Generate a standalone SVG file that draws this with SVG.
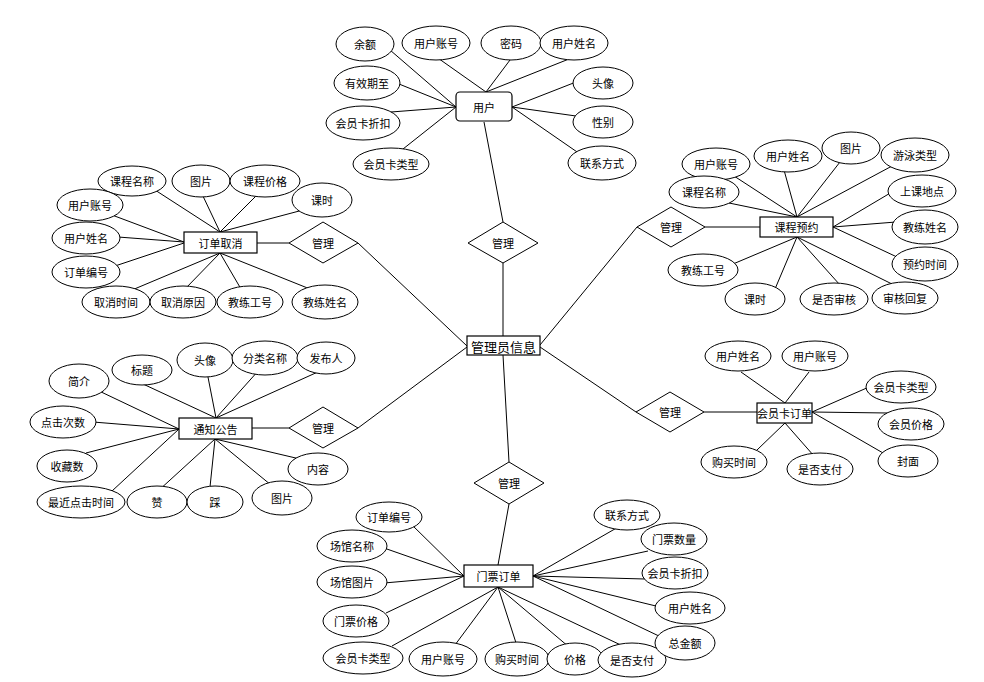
<svg xmlns="http://www.w3.org/2000/svg" width="984" height="682" viewBox="0 0 984 682">
<style>
.bg{fill:#fff}
line{stroke:#000;stroke-width:1}
ellipse{fill:#fff;stroke:#000;stroke-width:1}
rect{fill:#fff;stroke:#000;stroke-width:1.2}
polygon{fill:#fff;stroke:#000;stroke-width:1}
text{font-family:"Noto Sans CJK SC","Noto Sans",sans-serif;font-size:11px;fill:#000;text-anchor:middle;dominant-baseline:central}
.big{font-size:13px}
</style>
<rect class="bg" x="0" y="0" width="984" height="682" style="stroke:none"/>
<g id="connectors">
<line x1="484" y1="122" x2="503" y2="222"/>
<line x1="503" y1="263" x2="503" y2="336"/>
<line x1="257" y1="243" x2="289" y2="243"/>
<line x1="358" y1="243" x2="467" y2="346"/>
<line x1="252" y1="428" x2="289" y2="428"/>
<line x1="358" y1="428" x2="467" y2="347"/>
<line x1="509" y1="462" x2="503" y2="355"/>
<line x1="509" y1="504" x2="498" y2="565"/>
<line x1="637" y1="227" x2="540" y2="345"/>
<line x1="705" y1="227" x2="760" y2="227"/>
<line x1="540" y1="347" x2="636" y2="412"/>
<line x1="704" y1="412" x2="757" y2="412"/>
<!-- 用户 -->
<line x1="390" y1="50" x2="456" y2="107"/>
<line x1="435" y1="56" x2="486" y2="92"/>
<line x1="513" y1="56" x2="486" y2="92"/>
<line x1="574" y1="57" x2="486" y2="92"/>
<line x1="399" y1="84" x2="456" y2="107"/>
<line x1="391" y1="112" x2="456" y2="107"/>
<line x1="403" y1="149" x2="456" y2="107"/>
<line x1="576" y1="82" x2="512" y2="107"/>
<line x1="576" y1="116" x2="512" y2="107"/>
<line x1="580" y1="154" x2="512" y2="107"/>
<!-- 订单取消 -->
<line x1="155" y1="190" x2="220" y2="232"/>
<line x1="202" y1="194" x2="220" y2="232"/>
<line x1="259" y1="193" x2="220" y2="232"/>
<line x1="303" y1="210" x2="220" y2="232"/>
<line x1="112" y1="215" x2="184" y2="242"/>
<line x1="118" y1="237" x2="184" y2="242"/>
<line x1="115" y1="266" x2="184" y2="243"/>
<line x1="132" y1="290" x2="220" y2="253"/>
<line x1="185" y1="289" x2="220" y2="253"/>
<line x1="241" y1="289" x2="220" y2="253"/>
<line x1="310" y1="289" x2="220" y2="253"/>
<!-- 课程预约 -->
<line x1="734" y1="176" x2="797" y2="217"/>
<line x1="784" y1="170" x2="797" y2="217"/>
<line x1="840" y1="162" x2="797" y2="217"/>
<line x1="892" y1="166" x2="797" y2="217"/>
<line x1="729" y1="203" x2="797" y2="217"/>
<line x1="892" y1="192" x2="833" y2="227"/>
<line x1="896" y1="222" x2="833" y2="227"/>
<line x1="897" y1="257" x2="833" y2="227"/>
<line x1="733" y1="264" x2="797" y2="237"/>
<line x1="775" y1="289" x2="797" y2="237"/>
<line x1="840" y1="285" x2="797" y2="237"/>
<line x1="894" y1="285" x2="797" y2="237"/>
<!-- 通知公告 -->
<line x1="97" y1="390" x2="179" y2="429"/>
<line x1="143" y1="384" x2="216" y2="418"/>
<line x1="207" y1="372" x2="216" y2="418"/>
<line x1="259" y1="370" x2="216" y2="418"/>
<line x1="320" y1="371" x2="216" y2="418"/>
<line x1="93" y1="422" x2="179" y2="429"/>
<line x1="86" y1="453" x2="179" y2="429"/>
<line x1="112" y1="491" x2="179" y2="429"/>
<line x1="158" y1="491" x2="215" y2="439"/>
<line x1="210" y1="487" x2="215" y2="439"/>
<line x1="271" y1="485" x2="215" y2="439"/>
<line x1="300" y1="459" x2="215" y2="439"/>
<!-- 会员卡订单 -->
<line x1="741" y1="372" x2="785" y2="403"/>
<line x1="809" y1="372" x2="785" y2="403"/>
<line x1="869" y1="387" x2="812" y2="412"/>
<line x1="888" y1="413" x2="812" y2="412"/>
<line x1="890" y1="457" x2="812" y2="412"/>
<line x1="757" y1="450" x2="785" y2="423"/>
<line x1="814" y1="456" x2="785" y2="423"/>
<!-- 门票订单 -->
<line x1="411" y1="524" x2="464" y2="576"/>
<line x1="384" y1="548" x2="464" y2="576"/>
<line x1="384" y1="583" x2="464" y2="576"/>
<line x1="386" y1="613" x2="464" y2="576"/>
<line x1="392" y1="646" x2="498" y2="587"/>
<line x1="452" y1="649" x2="498" y2="587"/>
<line x1="517" y1="646" x2="498" y2="587"/>
<line x1="569" y1="647" x2="498" y2="587"/>
<line x1="625" y1="647" x2="498" y2="587"/>
<line x1="661" y1="637" x2="533" y2="576"/>
<line x1="620" y1="526" x2="533" y2="576"/>
<line x1="648" y1="551" x2="533" y2="576"/>
<line x1="645" y1="579" x2="533" y2="576"/>
<line x1="660" y1="607" x2="533" y2="576"/>
</g>

<g id="center"><rect x="467" y="336" width="73" height="19"/><text class="big" x="503.5" y="346">管理员信息</text></g>

<g id="rel-top"><polygon points="503,222 538,243 503,263 468,243"/><text x="503" y="243">管理</text></g>
<g id="rel-left1"><polygon points="323,222 358,243 323,263 289,243"/><text x="323" y="243">管理</text></g>
<g id="rel-left2"><polygon points="323,407 358,428 323,448 289,428"/><text x="323" y="428">管理</text></g>
<g id="rel-bottom"><polygon points="509,462 544,483 509,504 474,483"/><text x="509" y="483">管理</text></g>
<g id="rel-right1"><polygon points="671,207 705,227 671,247 637,227"/><text x="671" y="227">管理</text></g>
<g id="rel-right2"><polygon points="670,392 704,412 670,432 636,412"/><text x="670" y="412">管理</text></g>

<g id="user"><rect x="456" y="92" width="56" height="29" rx="4"/><text x="484" y="106.5">用户</text></g>
<g id="user-attrs">
<g id="u1"><ellipse cx="365" cy="44" rx="29" ry="17"/><text x="365" y="44">余额</text></g>
<g id="u2"><ellipse cx="436" cy="43" rx="34" ry="17"/><text x="436" y="43">用户账号</text></g>
<g id="u3"><ellipse cx="511" cy="43" rx="30" ry="17"/><text x="511" y="43">密码</text></g>
<g id="u4"><ellipse cx="574" cy="43" rx="34" ry="17"/><text x="574" y="43">用户姓名</text></g>
<g id="u5"><ellipse cx="367" cy="83" rx="33" ry="17"/><text x="367" y="83">有效期至</text></g>
<g id="u6"><ellipse cx="603" cy="83" rx="30" ry="16"/><text x="603" y="83">头像</text></g>
<g id="u7"><ellipse cx="363" cy="123" rx="37" ry="17"/><text x="363" y="123">会员卡折扣</text></g>
<g id="u8"><ellipse cx="603" cy="122" rx="30" ry="16"/><text x="603" y="122">性别</text></g>
<g id="u9"><ellipse cx="391" cy="164" rx="38" ry="16"/><text x="391" y="164">会员卡类型</text></g>
<g id="u10"><ellipse cx="602" cy="163" rx="34" ry="17"/><text x="602" y="163">联系方式</text></g>
</g>

<g id="cancel"><rect x="184" y="232" width="73" height="21"/><text x="220.5" y="242.5">订单取消</text></g>
<g id="cancel-attrs">
<g id="c1"><ellipse cx="132" cy="181" rx="34" ry="15"/><text x="132" y="181">课程名称</text></g>
<g id="c2"><ellipse cx="201" cy="181" rx="29" ry="16"/><text x="201" y="181">图片</text></g>
<g id="c3"><ellipse cx="265" cy="181" rx="35" ry="16"/><text x="265" y="181">课程价格</text></g>
<g id="c4"><ellipse cx="322" cy="200" rx="30" ry="17"/><text x="322" y="200">课时</text></g>
<g id="c5"><ellipse cx="90" cy="205" rx="33" ry="16"/><text x="90" y="205">用户账号</text></g>
<g id="c6"><ellipse cx="86" cy="238" rx="34" ry="16"/><text x="86" y="238">用户姓名</text></g>
<g id="c7"><ellipse cx="86" cy="272" rx="34" ry="16"/><text x="86" y="272">订单编号</text></g>
<g id="c8"><ellipse cx="116" cy="302" rx="34" ry="16"/><text x="116" y="302">取消时间</text></g>
<g id="c9"><ellipse cx="183" cy="302" rx="33" ry="16"/><text x="183" y="302">取消原因</text></g>
<g id="c10"><ellipse cx="250" cy="302" rx="33" ry="16"/><text x="250" y="302">教练工号</text></g>
<g id="c11"><ellipse cx="325" cy="302" rx="33" ry="17"/><text x="325" y="302">教练姓名</text></g>
</g>

<g id="course"><rect x="760" y="217" width="73" height="20"/><text x="796.5" y="227">课程预约</text></g>
<g id="course-attrs">
<g id="k1"><ellipse cx="716" cy="164" rx="34" ry="16"/><text x="716" y="164">用户账号</text></g>
<g id="k2"><ellipse cx="788" cy="156" rx="34" ry="16"/><text x="788" y="156">用户姓名</text></g>
<g id="k3"><ellipse cx="851" cy="148" rx="29" ry="16"/><text x="851" y="148">图片</text></g>
<g id="k4"><ellipse cx="915" cy="155" rx="34" ry="17"/><text x="915" y="155">游泳类型</text></g>
<g id="k5"><ellipse cx="704" cy="192" rx="35" ry="16"/><text x="704" y="192">课程名称</text></g>
<g id="k6"><ellipse cx="922" cy="191" rx="34" ry="16"/><text x="922" y="191">上课地点</text></g>
<g id="k7"><ellipse cx="925" cy="227" rx="33" ry="17"/><text x="925" y="227">教练姓名</text></g>
<g id="k8"><ellipse cx="925" cy="264" rx="33" ry="17"/><text x="925" y="264">预约时间</text></g>
<g id="k9"><ellipse cx="703" cy="270" rx="35" ry="16"/><text x="703" y="270">教练工号</text></g>
<g id="k10"><ellipse cx="755" cy="299" rx="30" ry="16"/><text x="755" y="299">课时</text></g>
<g id="k11"><ellipse cx="834" cy="299" rx="34" ry="16"/><text x="834" y="299">是否审核</text></g>
<g id="k12"><ellipse cx="905" cy="298" rx="33" ry="16"/><text x="905" y="298">审核回复</text></g>
</g>

<g id="notice"><rect x="179" y="418" width="73" height="21"/><text x="215.5" y="428.5">通知公告</text></g>
<g id="notice-attrs">
<g id="n1"><ellipse cx="79" cy="381" rx="30" ry="17"/><text x="79" y="381">简介</text></g>
<g id="n2"><ellipse cx="142" cy="370" rx="30" ry="15"/><text x="142" y="370">标题</text></g>
<g id="n3"><ellipse cx="205" cy="360" rx="28" ry="17"/><text x="205" y="360">头像</text></g>
<g id="n4"><ellipse cx="265" cy="358" rx="33" ry="17"/><text x="265" y="358">分类名称</text></g>
<g id="n5"><ellipse cx="326" cy="358" rx="29" ry="16"/><text x="326" y="358">发布人</text></g>
<g id="n6"><ellipse cx="63" cy="422" rx="33" ry="16"/><text x="63" y="422">点击次数</text></g>
<g id="n7"><ellipse cx="67" cy="466" rx="30" ry="16"/><text x="67" y="466">收藏数</text></g>
<g id="n8"><ellipse cx="81" cy="502" rx="44" ry="16"/><text x="81" y="502">最近点击时间</text></g>
<g id="n9"><ellipse cx="157" cy="502" rx="30" ry="16"/><text x="157" y="502">赞</text></g>
<g id="n10"><ellipse cx="215" cy="502" rx="28" ry="16"/><text x="215" y="502">踩</text></g>
<g id="n11"><ellipse cx="282" cy="498" rx="30" ry="17"/><text x="282" y="498">图片</text></g>
<g id="n12"><ellipse cx="318" cy="469" rx="30" ry="16"/><text x="318" y="469">内容</text></g>
</g>

<g id="card"><rect x="757" y="403" width="55" height="20"/><text x="784.5" y="413">会员卡订单</text></g>
<g id="card-attrs">
<g id="m1"><ellipse cx="738" cy="356" rx="33" ry="15"/><text x="738" y="356">用户姓名</text></g>
<g id="m2"><ellipse cx="815" cy="356" rx="33" ry="15"/><text x="815" y="356">用户账号</text></g>
<g id="m3"><ellipse cx="901" cy="387" rx="35" ry="16"/><text x="901" y="387">会员卡类型</text></g>
<g id="m4"><ellipse cx="911" cy="424" rx="33" ry="16"/><text x="911" y="424">会员价格</text></g>
<g id="m5"><ellipse cx="908" cy="461" rx="30" ry="16"/><text x="908" y="461">封面</text></g>
<g id="m6"><ellipse cx="734" cy="462" rx="33" ry="16"/><text x="734" y="462">购买时间</text></g>
<g id="m7"><ellipse cx="820" cy="469" rx="33" ry="16"/><text x="820" y="469">是否支付</text></g>
</g>

<g id="ticket"><rect x="464" y="565" width="69" height="22"/><text x="498.5" y="576">门票订单</text></g>
<g id="ticket-attrs">
<g id="t1"><ellipse cx="389" cy="517" rx="33" ry="15"/><text x="389" y="517">订单编号</text></g>
<g id="t2"><ellipse cx="352" cy="546" rx="35" ry="16"/><text x="352" y="546">场馆名称</text></g>
<g id="t3"><ellipse cx="352" cy="582" rx="35" ry="16"/><text x="352" y="582">场馆图片</text></g>
<g id="t4"><ellipse cx="356" cy="621" rx="33" ry="16"/><text x="356" y="621">门票价格</text></g>
<g id="t5"><ellipse cx="363" cy="658" rx="40" ry="16"/><text x="363" y="658">会员卡类型</text></g>
<g id="t6"><ellipse cx="443" cy="659" rx="34" ry="17"/><text x="443" y="659">用户账号</text></g>
<g id="t7"><ellipse cx="517" cy="659" rx="32" ry="17"/><text x="517" y="659">购买时间</text></g>
<g id="t8"><ellipse cx="575" cy="659" rx="28" ry="16"/><text x="575" y="659">价格</text></g>
<g id="t9"><ellipse cx="632" cy="660" rx="34" ry="17"/><text x="632" y="660">是否支付</text></g>
<g id="t10"><ellipse cx="685" cy="643" rx="30" ry="17"/><text x="685" y="643">总金额</text></g>
<g id="t11"><ellipse cx="627" cy="515" rx="33" ry="15"/><text x="627" y="515">联系方式</text></g>
<g id="t12"><ellipse cx="674" cy="539" rx="33" ry="16"/><text x="674" y="539">门票数量</text></g>
<g id="t13"><ellipse cx="675" cy="573" rx="33" ry="16"/><text x="675" y="573">会员卡折扣</text></g>
<g id="t14"><ellipse cx="690" cy="608" rx="35" ry="16"/><text x="690" y="608">用户姓名</text></g>
</g>
</svg>
